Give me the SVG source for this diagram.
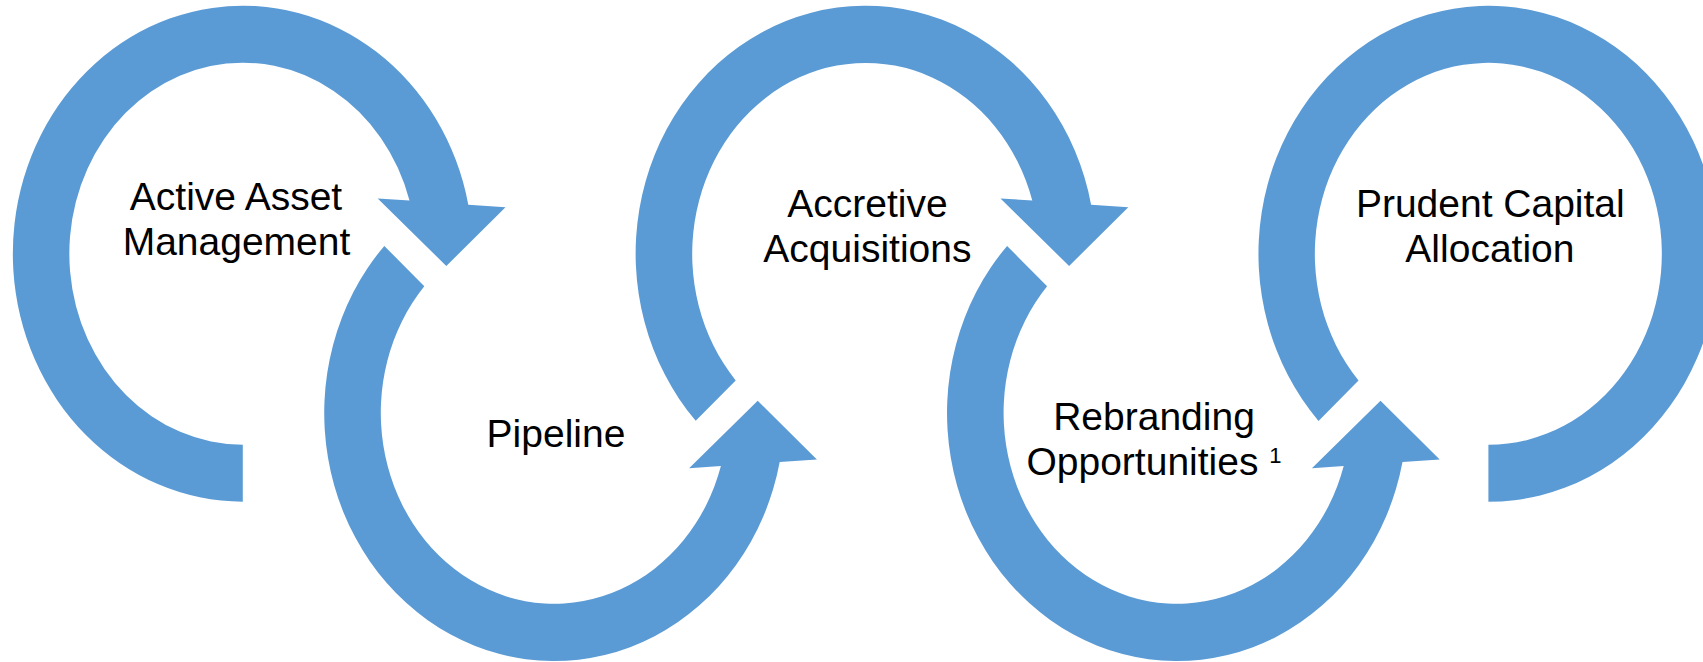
<svg xmlns="http://www.w3.org/2000/svg" width="1703" height="662" viewBox="0 0 1703 662">
  <style>
    .ring { fill: #5B9BD5; }
    .lbl { font-family: "Liberation Sans", Arial, sans-serif; font-size: 39px; fill: #000000; text-anchor: middle; }
    .sup { font-size: 22px; }
  </style>
  <defs>
    <path id="arrowTail" d="M 0,248 A 230 248 0 1 1 225.5,-49.0 L 262.7,-46.4 L 203.5,12.3 L 134.9,-55.3 L 166.7,-53.1 A 173.5 191 0 1 0 0,191 Z"/>
    <path id="arrowDiag" d="M -169.9,167.1 A 230 248 0 1 1 225.5,-49.0 L 262.7,-46.4 L 203.5,12.3 L 134.9,-55.3 L 166.7,-53.1 A 173.5 191 0 1 0 -129.9,126.7 Z"/>
    <path id="ringEnd" d="M -169.9,167.1 A 230 248 0 1 1 0,248 L 0,191 A 173.5 191 0 1 0 -129.9,126.7 Z"/>
  </defs>
  <rect x="0" y="0" width="1703" height="662" fill="#FFFFFF"/>

  <g id="node-active-asset-management">
    <use href="#arrowTail" class="ring" transform="translate(242.8,253.7)"/>
    <text class="lbl" x="236" y="209.8">Active Asset</text>
    <text class="lbl" x="236.5" y="255.4">Management</text>
  </g>

  <g id="node-pipeline">
    <use href="#arrowDiag" class="ring" transform="translate(554.2,413) scale(1,-1)"/>
    <text class="lbl" x="556" y="446.7">Pipeline</text>
  </g>

  <g id="node-accretive-acquisitions">
    <use href="#arrowDiag" class="ring" transform="translate(865.6,253.7)"/>
    <text class="lbl" x="867.4" y="216.6">Accretive</text>
    <text class="lbl" x="867.4" y="261.8">Acquisitions</text>
  </g>

  <g id="node-rebranding-opportunities">
    <use href="#arrowDiag" class="ring" transform="translate(1177,413) scale(1,-1)"/>
    <text class="lbl" x="1154" y="429.5">Rebranding</text>
    <text class="lbl" x="1154" y="475">Opportunities <tspan class="sup" dy="-12">1</tspan></text>
  </g>

  <g id="node-prudent-capital-allocation">
    <use href="#ringEnd" class="ring" transform="translate(1488.4,253.8)"/>
    <text class="lbl" x="1490.3" y="216.6">Prudent Capital</text>
    <text class="lbl" x="1489.9" y="261.8">Allocation</text>
  </g>

  <g id="connectors"></g>
</svg>
